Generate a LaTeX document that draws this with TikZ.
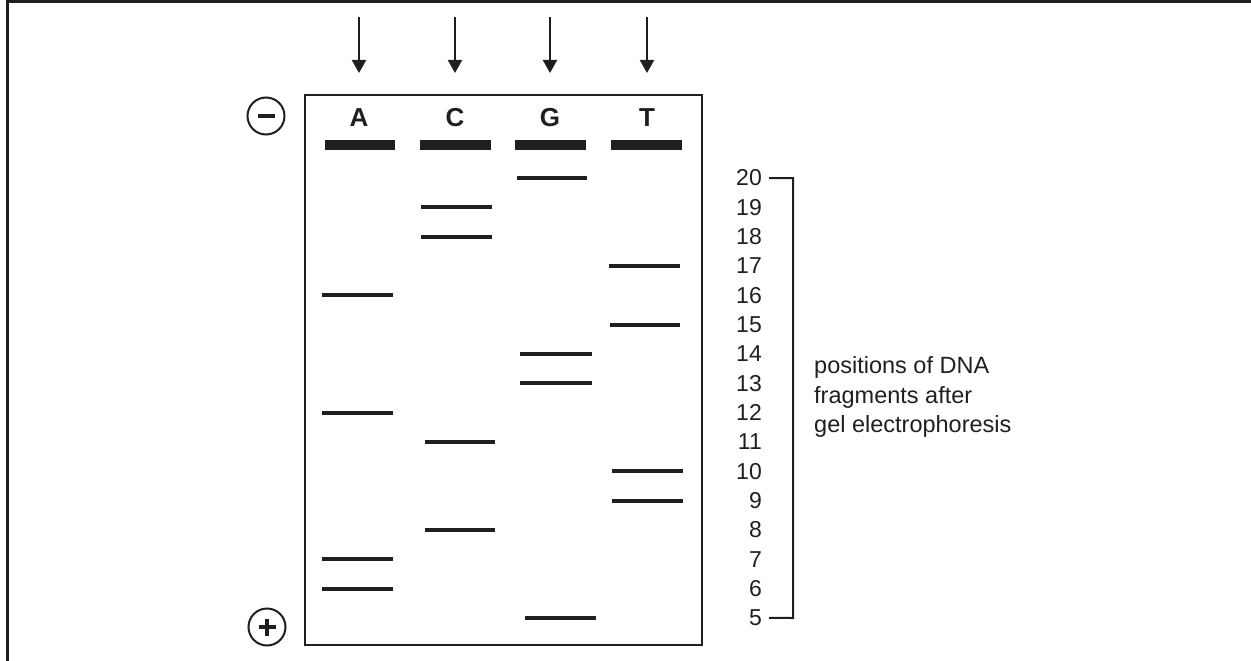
\documentclass[tikz,border=0pt]{standalone}
\usepackage{fontspec}
\setmainfont{Liberation Sans}
\usetikzlibrary{arrows.meta}
\begin{document}
\begin{tikzpicture}[x=1pt,y=-1pt,
  ink/.style={draw=black!88},
  frameline/.style={ink,line width=3pt},
  gelbox/.style={ink,line width=2.5pt},
  well/.style={ink,line width=10pt},
  band/.style={ink,line width=4.2pt},
  loadarrow/.style={ink,line width=2pt,-{Triangle[width=14pt,length=13pt]}},
  electrode/.style={circle,ink,line width=2pt,minimum size=37pt,inner sep=0pt},
  lane/.style={font=\bfseries\fontsize{26}{26}\selectfont,text=black!88,inner sep=0pt},
  num/.style={font=\fontsize{23}{23}\selectfont,text=black!88,anchor=east,inner sep=0pt},
  note/.style={font=\fontsize{23.5}{29.5}\selectfont,text=black!88,align=left,anchor=west,inner sep=0pt},
  bracket/.style={ink,line width=2pt}]
\useasboundingbox (0,0) rectangle (1251,661);
% outer frame (top and left edges)
\coordinate (fTL) at (7,2);
\coordinate (fTR) at (1251,2);
\coordinate (fBL) at (7,661);
\draw[frameline] (fBL) -- (fTL) -- (fTR);

% gel
\node[gelbox,minimum width=397pt,minimum height=550pt,inner sep=0pt] (gel) at (503.5,370) {};

% electrodes
\node[electrode] (neg) at (266,116) {};
\draw[ink,line width=4pt] ([xshift=-8.5pt]neg.center) -- ([xshift=8.5pt]neg.center);
\node[electrode] (pos) at (267,627) {};
\draw[ink,line width=3.5pt] ([xshift=-8.5pt]pos.center) -- ([xshift=8.5pt]pos.center)
  ([yshift=-8.5pt]pos.center) -- ([yshift=8.5pt]pos.center);

% lanes: label, loading arrow, well
\foreach \nm/\lx/\wa/\wb in {A/359/325/395, C/455/420/491, G/550/515/586, T/647/611/682}{
  \node[lane] (lab\nm) at (\lx,118) {\nm};
  \coordinate (in\nm) at (\lx,17);
  \coordinate (tip\nm) at (\lx,73);
  \draw[loadarrow] (in\nm) -- (tip\nm);
  \coordinate (w\nm a) at (\wa,145);
  \coordinate (w\nm b) at (\wb,145);
  \draw[well] (w\nm a) -- (w\nm b);
}

% fragment scale 20 ... 5
\foreach \k in {5,...,20}{
  \pgfmathsetmacro{\yy}{178+(20-\k)*29.33}
  \node[num] (n\k) at (762,\yy) {\k};
}
\coordinate (brT) at (793,178);
\coordinate (brB) at (793,618);
\draw[bracket] ([xshift=7pt]n20.east) -- (brT) -- (brB) -- ([xshift=7pt]n5.east);

% bands: left end, right end, fragment position
\foreach \x/\y/\k in {
  322/393/16, 322/393/12, 322/393/7, 322/393/6,
  421/492/19, 421/492/18, 425/495/11, 425/495/8,
  517/587/20, 520/592/14, 520/592/13, 525/596/5,
  609/680/17, 610/680/15, 612/683/10, 612/683/9}{
  \draw[band] (\x,0 |- n\k.center) -- (\y,0 |- n\k.center);
}

\node[note] (caption) at (814,397) {positions of DNA\\fragments after\\gel electrophoresis};
\end{tikzpicture}
\end{document}
